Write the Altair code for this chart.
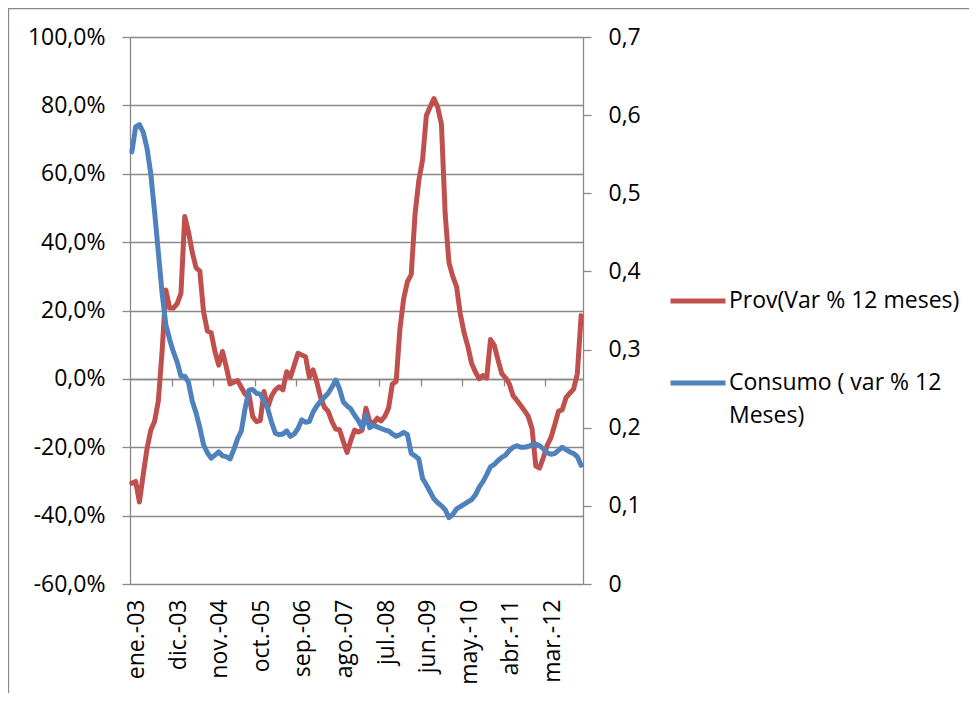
import altair as alt
import pandas as pd

# monthly series, ene.-03 .. dic.-12
MONTH_ABBR = ["ene.", "feb.", "mar.", "abr.", "may.", "jun.",
              "jul.", "ago.", "sep.", "oct.", "nov.", "dic."]
START_YEAR = 3
N_MONTHS = 120
LABEL_EVERY = 11

PROV_NAME = "Prov(Var % 12 meses)"
CONS_NAME = "Consumo ( var % 12|Meses)"

# Prov, var % 12 meses (left axis, %)
PROV = [-30.5, -30.0, -36.0, -28.0, -20.5, -15.0, -12.5, -6.5, 8.0, 26.0,
        20.7, 20.7, 22.0, 25.0, 47.5, 43.0, 37.0, 32.5, 31.5, 19.5,
        14.0, 13.5, 8.0, 4.0, 8.0, 3.5, -1.5, -1.0, -0.5, -2.5,
        -4.5, -4.5, -11.0, -12.5, -12.2, -3.7, -8.4, -5.0, -3.2, -2.3,
        -3.2, 2.1, 0.5, 4.0, 7.5, 7.0, 6.5, 0.5, 2.6, -1.0,
        -5.5, -8.3, -9.5, -12.5, -14.7, -14.9, -18.3, -21.5, -18.0, -15.0,
        -15.5, -15.0, -8.6, -12.5, -13.0, -11.5, -12.3, -11.0, -8.5, -1.5,
        -0.8, 14.5, 23.5, 28.5, 30.5, 48.0, 58.0, 64.0, 77.0, 79.5,
        82.0, 79.5, 74.5, 48.0, 34.0, 30.0, 27.0, 19.0, 13.5, 9.5,
        4.5, 2.0, 0.0, 1.0, 0.3, 11.5, 9.8, 5.5, 1.5, 0.3,
        -1.5, -5.0, -6.3, -7.8, -9.3, -11.0, -14.5, -25.5, -26.1, -23.0,
        -19.5, -17.2, -13.5, -9.5, -9.0, -5.5, -4.2, -3.0, 1.5, 18.5]

# Consumo, var % 12 meses (right axis)
CONSUMO = [0.553, 0.585, 0.588, 0.578, 0.558, 0.525, 0.477, 0.425, 0.372, 0.332,
           0.313, 0.297, 0.284, 0.266, 0.266, 0.258, 0.234, 0.219, 0.200, 0.178,
           0.168, 0.161, 0.165, 0.169, 0.164, 0.163, 0.160, 0.172, 0.186, 0.196,
           0.225, 0.248, 0.249, 0.244, 0.243, 0.234, 0.224, 0.207, 0.193, 0.191,
           0.192, 0.196, 0.189, 0.192, 0.199, 0.210, 0.207, 0.208, 0.220, 0.228,
           0.234, 0.239, 0.244, 0.252, 0.261, 0.250, 0.233, 0.228, 0.224, 0.216,
           0.209, 0.200, 0.216, 0.200, 0.203, 0.201, 0.199, 0.197, 0.196, 0.192,
           0.189, 0.191, 0.194, 0.191, 0.167, 0.164, 0.160, 0.135, 0.127, 0.118,
           0.109, 0.104, 0.100, 0.095, 0.085, 0.089, 0.096, 0.099, 0.102, 0.105,
           0.108, 0.114, 0.124, 0.131, 0.140, 0.150, 0.153, 0.158, 0.162, 0.165,
           0.171, 0.175, 0.177, 0.175, 0.175, 0.176, 0.178, 0.179, 0.177, 0.173,
           0.168, 0.166, 0.167, 0.171, 0.175, 0.172, 0.169, 0.167, 0.163, 0.152]

LEFT_TICKS = [-60, -40, -20, 0, 20, 40, 60, 80, 100]
RIGHT_TICKS = [0, 0.1, 0.2, 0.3, 0.4, 0.5, 0.6, 0.7]

RED = "#C0504D"
BLUE = "#4F81BD"
GRAY = "#898989"
FONT = "Open Sans"
FS = 23
LW = 5

W, H = 453, 547

df = pd.DataFrame({"idx": list(range(N_MONTHS)), "prov": PROV, "consumo": CONSUMO})

label_values = list(range(0, N_MONTHS, LABEL_EVERY))
tick_values = [v - 0.5 for v in range(LABEL_EVERY, N_MONTHS, LABEL_EVERY)]
month_expr = (
    "[" + ",".join(f"'{m}'" for m in MONTH_ABBR) + "][datum.value % 12] + '-' + "
    f"format({START_YEAR} + floor(datum.value / 12), '02d')"
)

x_scale = alt.Scale(domain=[-0.5, N_MONTHS - 0.5], nice=False, zero=False)

label_axis = alt.Axis(
    values=label_values, labelExpr=month_expr, labelAngle=270,
    labelAlign="right", labelBaseline="middle", labelPadding=15,
    labelOffset=5, ticks=False, domain=False, grid=False, title=None,
    labelFont=FONT, labelFontSize=FS, labelColor="black", labelOverlap=False,
)
zero_axis = alt.Axis(
    orient="bottom", offset=-205, values=tick_values, labels=False,
    tickSize=7, tickColor=GRAY, tickWidth=1.3, domainColor=GRAY,
    domainWidth=1.3, grid=False, title=None,
)
left_axis = alt.Axis(
    values=LEFT_TICKS, grid=True, gridColor=GRAY, gridWidth=1.3,
    domainColor=GRAY, domainWidth=1.3, tickColor=GRAY, tickWidth=1.3,
    tickSize=8, labelPadding=17, title=None, labelFont=FONT,
    labelFontSize=FS, labelColor="black",
    labelExpr="(datum.value < 0 ? '-' : '') + replace(format(abs(datum.value), '.1f'), '.', ',') + '%'",
)
right_axis = alt.Axis(
    orient="right", values=RIGHT_TICKS, grid=False,
    domainColor=GRAY, domainWidth=1.3, tickColor=GRAY, tickWidth=1.3,
    tickSize=8, labelPadding=17, title=None, labelFont=FONT,
    labelFontSize=FS, labelColor="black",
    labelExpr="datum.value == 0 ? '0' : replace(format(datum.value, '.1f'), '.', ',')",
)

color_scale = alt.Scale(domain=[PROV_NAME, CONS_NAME], range=[RED, BLUE])
legend = alt.Legend(
    orient="none", legendX=538, legendY=234, title=None,
    symbolType="stroke", symbolSize=3025, symbolStrokeWidth=LW,
    labelFont=FONT, labelFontSize=FS, labelColor="black", labelLimit=400,
    labelOffset=1, labelBaseline="middle", rowPadding=40, padding=0,
    labelExpr="split(datum.label, '|')",
)

base = alt.Chart(df)
line_style = dict(strokeWidth=LW, strokeJoin="round", strokeCap="round")

prov_line = base.transform_calculate(serie=f"'{PROV_NAME}'").mark_line(**line_style).encode(
    x=alt.X("idx:Q", scale=x_scale, axis=label_axis),
    y=alt.Y("prov:Q", scale=alt.Scale(domain=[-60, 100], nice=False), axis=left_axis),
    color=alt.Color("serie:N", scale=color_scale, legend=legend),
)

cons_line = base.transform_calculate(serie=f"'{CONS_NAME}'").mark_line(**line_style).encode(
    x=alt.X("idx:Q", scale=x_scale, axis=zero_axis),
    y=alt.Y("consumo:Q", scale=alt.Scale(domain=[0, 0.7], nice=False), axis=right_axis),
    color=alt.Color("serie:N", scale=color_scale, legend=legend),
)

# chart-area border (only the top and left edges fall inside the page)
frame = alt.Chart(pd.DataFrame({"f": [0]})).mark_rect(
    fill="transparent", stroke=GRAY, strokeWidth=1.3, clip=False
).encode(
    x=alt.value(-121.5), x2=alt.value(900), y=alt.value(-28.3), y2=alt.value(800)
)

chart = (
    alt.layer(frame, prov_line, cons_line)
    .resolve_scale(y="independent")
    .resolve_axis(x="independent")
    .properties(
        width=W, height=H,
        autosize=alt.AutoSizeParams(type="none"),
        padding={"left": 122, "top": 29, "right": 386, "bottom": 109},
    )
    .configure(
        view=alt.ViewConfig(stroke="transparent"),
        style={"guide-label": {"lineHeight": 33}},
    )
)

chart.save("out.html", embed_options={"renderer": "svg", "actions": False})
